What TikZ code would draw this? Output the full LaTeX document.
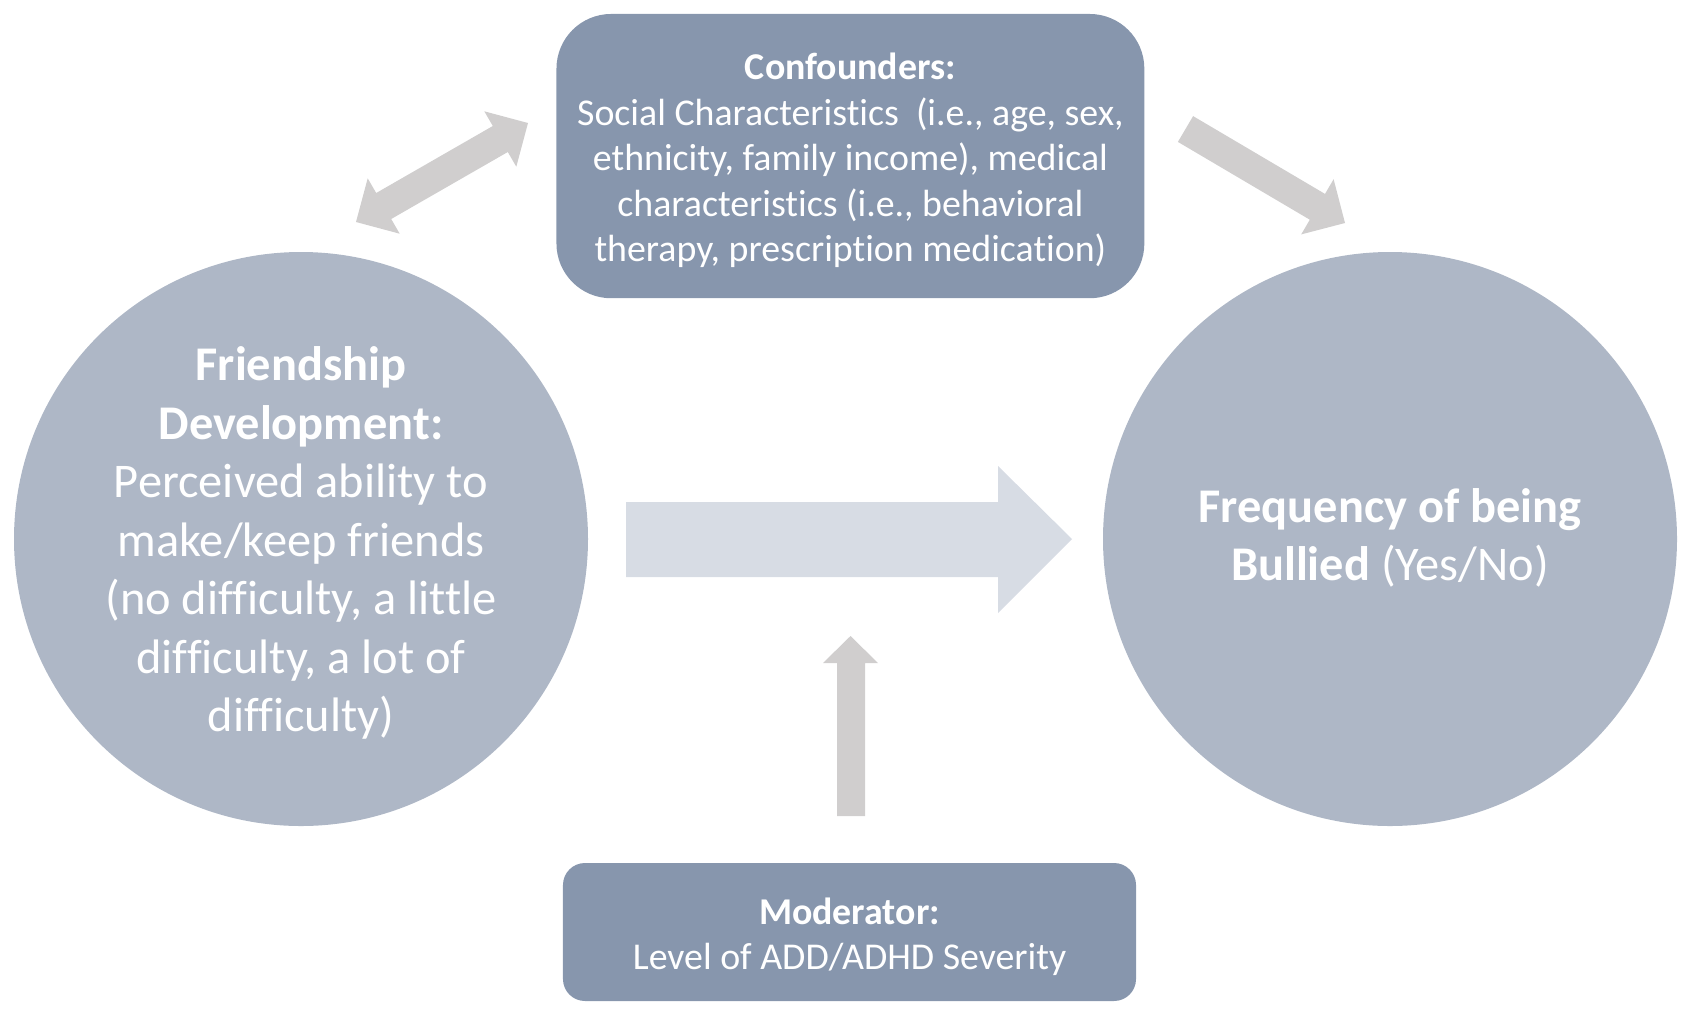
\documentclass[tikz,border=0pt]{standalone}
\usepackage{fontspec}
\setmainfont{Carlito}[Ligatures=NoCommon]
\definecolor{panelblue}{HTML}{8796AD}
\definecolor{bubbleblue}{HTML}{AEB7C6}
\definecolor{paleblue}{HTML}{D7DCE4}
\definecolor{arrowgray}{HTML}{D0CECE}
\tikzset{every picture/.style={line width=0.75pt}}
\tikzset{
  bubble/.style={circle, fill=bubbleblue, draw=none, minimum size=430.5pt, inner sep=0pt},
  bubbletext/.style={text=white, align=center, inner sep=0.75pt, font=\fontsize{36.3}{43.9}\selectfont},
  panel/.style={rectangle, fill=panelblue, draw=none, text=white, align=center, inner sep=0.75pt, font=\fontsize{28.4}{34.1}\selectfont},
  blockarrow/.style={fill=arrowgray, draw=none},
}

\begin{document}
\begin{tikzpicture}[x=0.75pt,y=0.75pt,yscale=-1,xscale=1]
\useasboundingbox (0,0) rectangle (1688,1022);

%Shape: Circle [id:friend]
\node (friend) [bubble] at (301,539) {};
%Shape: Circle [id:bully]
\node (bully) [bubble] at (1390,539) {};

%Shape: Rounded Rect [id:confound]
\node (confound) [panel, minimum width=440.9pt, minimum height=213.2pt, rounded corners=41pt] at (850.4,156.1) {};
%Shape: Rounded Rect [id:moder]
\node (moder) [panel, minimum width=429.8pt, minimum height=103.5pt, rounded corners=16.5pt] at (849.5,932) {};

%Shape: Right Arrow [id:main]
\draw [fill=paleblue, draw=none] (626,502) -- (998,502) -- (998,466) -- (1072,539) -- (998,613) -- (998,577) -- (626,577) -- cycle ;
%Shape: Up Arrow [id:moderating]
\draw [blockarrow] (850.5,636) -- (878,663) -- (865,663) -- (865,816) -- (837,816) -- (837,663) -- (823,663) -- cycle ;
%Shape: Left-Right Arrow [id:association]
\draw [blockarrow] (528,123) -- (516.3,166.7) -- (507.8,152.0) -- (391.2,219.0) -- (399.7,233.7) -- (356,222) -- (367.7,178.3) -- (376.2,193.0) -- (492.8,126.0) -- (484.3,111.3) -- cycle ;
%Shape: Right Arrow [id:adjust]
\draw [blockarrow] (1193.1,116.1) -- (1325.0,193.9) -- (1333.6,179.2) -- (1345,223) -- (1301.2,234.4) -- (1309.8,219.7) -- (1177.9,141.9) -- cycle ;

% Text Node
\node (confoundtxt) [panel, fill=none] at (850.4,160.5)
  {\textbf{Confounders:}\\Social Characteristics~ (i.e., age, sex,\\ethnicity, family income), medical\\characteristics (i.e., behavioral\\therapy, prescription medication)};
% Text Node
\node (modertxt) [panel, fill=none] at (849.5,937) {\textbf{Moderator:}\\Level of ADD/ADHD Severity};
% Text Node
\node (friendtxt) [bubbletext] at (301,543) {\textbf{Friendship}\\\textbf{Development:}\\Perceived ability to\\make/keep friends\\(no difficulty, a little\\difficulty, a lot of\\difficulty)};
% Text Node
\node (bullytxt) [bubbletext] at (1390,538) {\textbf{Frequency of being}\\\textbf{Bullied} (Yes/No)};

\end{tikzpicture}
\end{document}
